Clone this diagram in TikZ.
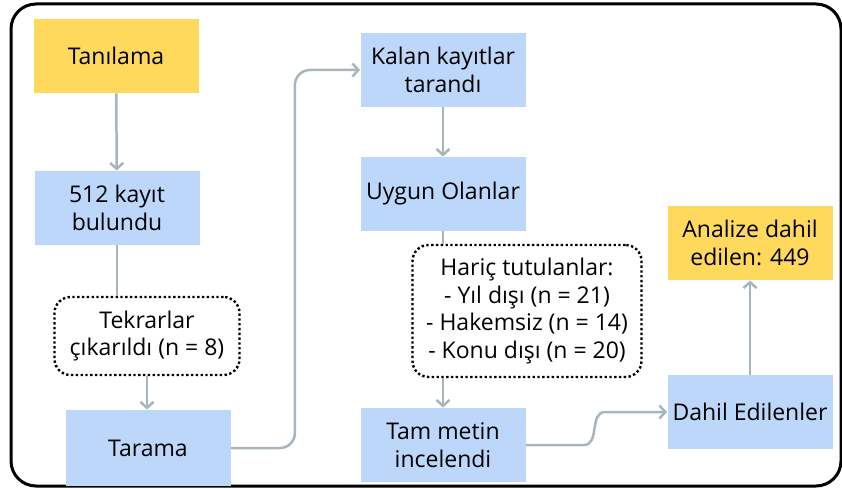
\documentclass[tikz,border=0pt]{standalone}
\usepackage{fontspec}
\setmainfont{Open Sans}
\usetikzlibrary{calc,arrows.meta}
\definecolor{boxblue}{RGB}{189,215,251}
\definecolor{boxyellow}{RGB}{255,217,92}
\definecolor{linegray}{RGB}{168,181,189}

\begin{document}
\begin{tikzpicture}[x=1pt, y=-1pt, thick, font=\fontsize{23}{27.5}\selectfont,
  main/.style = {fill=boxblue, minimum width=165, minimum height=74, align=center, inner sep=2pt},
  top/.style = {main, fill=boxyellow},
  note/.style = {draw, dash pattern=on 2.4pt off 2.4pt, line width=2.4pt, rounded corners=16, align=center, inner sep=2pt},
  arr/.style = {draw=linegray, line width=2.5pt, -{Straight Barb[length=6pt,width=13pt]}},
  link/.style = {draw=linegray, line width=2.5pt}]
	\useasboundingbox (0,0) rectangle (842,489);
	\draw[line width=3pt, rounded corners=25] (11,4) rectangle (841,486);
		\node[top] (1) at (116,56) {Tanılama};
		\node[main] (2) at (117,208) {512 kayıt\\bulundu};
		\node[note, minimum width=185, minimum height=78] (3) at (147,336) {Tekrarlar\\çıkarıldı (n = 8)};
		\node[main, minimum height=76] (4) at (148,448) {Tarama};
		\node[main] (5) at (443,70) {Kalan kayıtlar\\tarandı};
		\node[main] (6) at (443,194) {Uygun Olanlar};
		\node[note, minimum width=229, minimum height=132] (7) at (527,311) {Hariç tutulanlar:\\- Yıl dışı (n = 21)\\- Hakemsiz (n = 14)\\- Konu dışı (n = 20)};
		\node[main] (8) at (443,445) {Tam metin\\incelendi};
		\node[main] (9) at (750,412) {Dahil Edilenler};
		\node[top] (10) at (750,243) {Analize dahil\\edilen: 449};
		\draw[arr] (1) -- (2);
		\draw[link] (2.south) -- (2.south |- 3.north);
		\draw[arr] (3.south) -- (3.south |- 4.north);
		\draw[arr, rounded corners=15] (4.east) -- ($(4.east)+(64,0)$) |- (5.west);
		\draw[arr] (5) -- (6);
		\draw[link] (6.south) -- (6.south |- 7.north);
		\draw[arr] (7.south -| 8.north) -- (8.north);
		\draw[arr] (8.east) -- ++(58,0) .. controls +(16,0) and +(-16,0) .. ($(9.west)+(-62,0)$) -- (9.west);
		\draw[arr] (9) -- (10);
	\end{tikzpicture}
\end{document}
